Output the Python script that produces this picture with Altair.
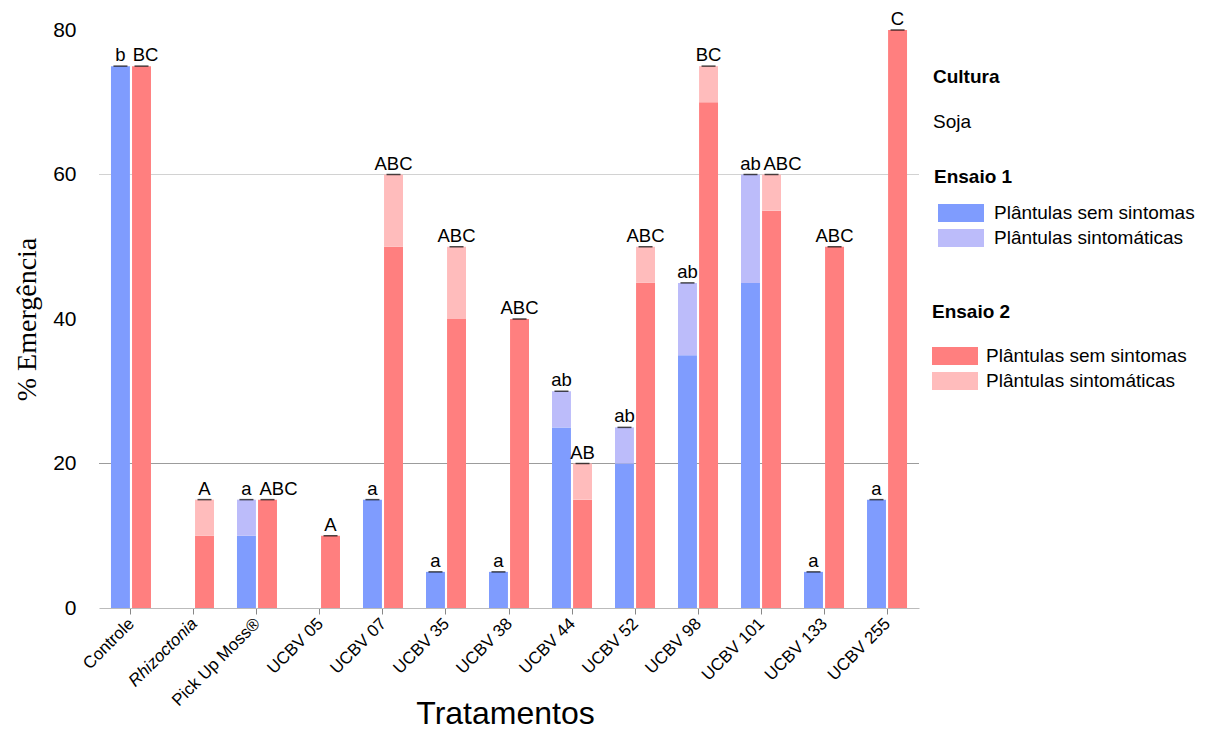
import altair as alt
import pandas as pd

# ---------------- data ----------------
tratamentos = ["Controle", "Rhizoctonia", "Pick Up Moss®", "UCBV 05", "UCBV 07",
               "UCBV 35", "UCBV 38", "UCBV 44", "UCBV 52", "UCBV 98",
               "UCBV 101", "UCBV 133", "UCBV 255"]
e1_sem = [75, 0, 10, 0, 15, 5, 5, 25, 20, 35, 45, 5, 15]
e1_sint = [0, 0, 5, 0, 0, 0, 0, 5, 5, 10, 15, 0, 0]
e2_sem = [75, 10, 15, 10, 50, 40, 40, 15, 45, 70, 55, 50, 80]
e2_sint = [0, 5, 0, 0, 10, 10, 0, 5, 5, 5, 5, 0, 0]
e1_letras = ["b", "", "a", "", "a", "a", "a", "ab", "ab", "ab", "ab", "a", "a"]
e2_letras = ["BC", "A", "ABC", "A", "ABC", "ABC", "ABC", "AB", "ABC", "BC", "ABC", "ABC", "C"]
classes = ["Plântulas sem sintomas", "Plântulas sintomáticas"]
ensaios = ["Ensaio 1", "Ensaio 2"]
cultura = ["Soja"]
grid_values = [20, 60]
y_ticks = [0, 20, 40, 60, 80]

# ---------------- tables ----------------
rows, tops = [], []
for ens, sem, sint, letras in [(ensaios[0], e1_sem, e1_sint, e1_letras),
                               (ensaios[1], e2_sem, e2_sint, e2_letras)]:
    for i, (t, a, b, l) in enumerate(zip(tratamentos, sem, sint, letras)):
        rows.append(dict(trat=t, ensaio=ens, classe=classes[0], y0=0, y1=a))
        rows.append(dict(trat=t, ensaio=ens, classe=classes[1], y0=a, y1=a + b))
        if a + b > 0:
            # label collides with its neighbour (Ensaio 1 letter present at same level)
            crowd = (ens == ensaios[1] and e1_letras[i] != ""
                     and e1_sem[i] + e1_sint[i] == a + b)
            tops.append(dict(trat=t, ensaio=ens, total=a + b, letra=l,
                             crowd=bool(crowd), n=len(l)))
bars = pd.DataFrame(rows)
bars = bars[bars.y1 > bars.y0]
tops = pd.DataFrame(tops)
grid = pd.DataFrame({"v": grid_values})
cult = pd.DataFrame({"cultura": cultura})

BLUE, LBLUE, RED, PINK = "#7f9cfe", "#bcbcfa", "#ff7f7f", "#ffbcbc"
FONT = "Liberation Sans"
RECT = "M-1,-0.39L1,-0.39L1,0.39L-1,0.39Z"

xscale = alt.Scale(domain=tratamentos, paddingInner=0.365, paddingOuter=0.19)
yscale = alt.Scale(domain=[0, 80], nice=False)

x_enc = alt.X(
    "trat:N", scale=xscale, sort=tratamentos, title="Tratamentos",
    axis=alt.Axis(
        labelAngle=-45, labelAlign="right", labelBaseline="top",
        labelFontSize=17, labelFont=FONT, labelColor="black",
        labelFontStyle={"condition": {"test": "datum.value == 'Rhizoctonia'", "value": "italic"},
                        "value": "normal"},
        labelPadding=1, labelOffset=-5, domainColor="#bbbbbb", tickColor="#888888",
        tickSize=6, titleFont=FONT, titleFontSize=32, titleFontWeight="normal",
        titleColor="black", titleBaseline="alphabetic", titleY=115, titleX=406, grid=False,
    ),
)
y_enc = alt.Y(
    "y0:Q", scale=yscale, title="% Emergência",
    axis=alt.Axis(
        values=y_ticks, grid=False, domain=False, ticks=False,
        labelFontSize=21, labelFont=FONT, labelColor="black", labelPadding=23,
        titleFont="Liberation Serif", titleFontSize=28, titleFontWeight="normal",
        titleColor="black", titlePadding=11,
    ),
)
xoff = alt.XOffset("ensaio:N", scale=alt.Scale(domain=ensaios, paddingInner=0.1))


def legend(title, lx, ly, soff, loff, tpad):
    return alt.Legend(
        title=title, orient="none", legendX=lx, legendY=ly, padding=0,
        titleFont=FONT, titleFontSize=19, titleFontWeight="bold", titleColor="black",
        titlePadding=tpad, labelFont=FONT, labelFontSize=19, labelColor="black",
        labelLimit=400, symbolType=RECT, symbolSize=2116, symbolStrokeWidth=0,
        symbolOffset=soff, labelOffset=loff, rowPadding=6, clipHeight=18,
        symbolOpacity=1,
    )


grid20 = alt.Chart(grid).transform_filter("datum.v == 20").mark_rule(
    color="#9c9c9c", strokeWidth=1).encode(y=alt.Y("v:Q", scale=yscale))
grid60 = alt.Chart(grid).transform_filter("datum.v == 60").mark_rule(
    color="#d2d2d2", strokeWidth=1).encode(y=alt.Y("v:Q", scale=yscale))

b1 = alt.Chart(bars).transform_filter(f"datum.ensaio == '{ensaios[0]}'").mark_bar().encode(
    x=x_enc, xOffset=xoff, y=y_enc, y2="y1:Q",
    color=alt.Color("classe:N", scale=alt.Scale(domain=classes, range=[BLUE, LBLUE]),
                    legend=legend("Ensaio 1", 835, 138, 4, 10, 17)),
)
b2 = alt.Chart(bars).transform_filter(f"datum.ensaio == '{ensaios[1]}'").mark_bar().encode(
    x=x_enc, xOffset=xoff, y=y_enc, y2="y1:Q",
    color=alt.Color("classe:N", scale=alt.Scale(domain=classes, range=[RED, PINK]),
                    legend=legend("Ensaio 2", 833, 273, 0, 8, 25)),
)
ticks = alt.Chart(tops).mark_tick(color="black", thickness=1.5, size=14).encode(
    x=x_enc, xOffset=xoff, y=alt.Y("total:Q", scale=yscale))


def letter_layer(flt, dx):
    return alt.Chart(tops).transform_filter(flt).mark_text(
        baseline="bottom", dy=-1, dx=dx, fontSize=18.5, font=FONT, color="black").encode(
        x=x_enc, xOffset=xoff, y=alt.Y("total:Q", scale=yscale), text="letra:N")


letters_plain = letter_layer("!datum.crowd", 0)
letters_wide = letter_layer("datum.crowd && datum.n >= 3", 11)
letters_mid = letter_layer("datum.crowd && datum.n < 3", 4)

cult_layer = alt.Chart(cult).mark_point(opacity=0).encode(
    shape=alt.Shape("cultura:N", legend=alt.Legend(
        title="Cultura", orient="none", legendX=834, legendY=38, padding=0,
        titleFont=FONT, titleFontSize=19, titleFontWeight="bold", titleColor="black",
        titlePadding=25, labelFont=FONT, labelFontSize=19, labelColor="black",
        symbolOpacity=0, symbolSize=1, labelOffset=alt.ExprRef("-19"),
        symbolStrokeWidth=0, symbolOffset=0,
    )))

chart = alt.layer(grid20, grid60, b1, b2, ticks, letters_plain, letters_wide, letters_mid,
                  cult_layer).resolve_scale(color="independent").properties(
    width=820, height=578, background="white",
    padding={"top": 2, "left": 5, "right": 5, "bottom": 0}
).configure_view(strokeWidth=0)

chart.save("out.html", embed_options={"renderer": "svg", "actions": False})
